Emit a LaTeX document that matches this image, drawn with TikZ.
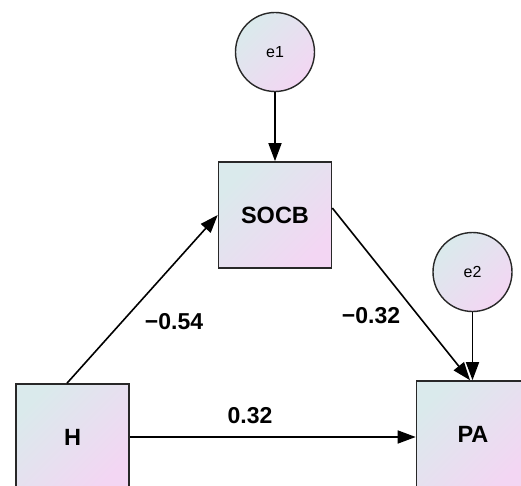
\documentclass[tikz,border=0pt]{standalone}
\usepackage{fontspec}
\setmainfont{Liberation Sans}
\usetikzlibrary{arrows.meta,calc}
\definecolor{gtop}{RGB}{218,234,236}
\definecolor{gbot}{RGB}{243,214,243}
\definecolor{edge}{RGB}{40,40,40}
\tikzset{
  obs/.style={draw=edge,line width=1.6pt,rectangle,minimum width=113pt,minimum height=106pt,inner sep=0pt,
    top color=gtop,bottom color=gbot,shading angle=45,font=\fontsize{23.5}{26}\selectfont\bfseries},
  err/.style={draw=edge,line width=1.4pt,circle,minimum size=79pt,inner sep=0pt,
    top color=gtop,bottom color=gbot,shading angle=45,font=\fontsize{16}{18}\selectfont},
  path/.style={line width=1.6pt,-{Triangle[length=18pt,width=13pt]}},
  coef/.style={font=\fontsize{23}{26}\selectfont\bfseries,inner sep=0pt}
}
\begin{document}
\begin{tikzpicture}[x=1pt,y=-1pt]
\useasboundingbox (0,0) rectangle (521,486);
\node[err] (e1) at (275,52) {e1};
\node[obs] (SOCB) at (275,215) {SOCB};
\node[obs] (H) at (72.5,437) {H};
\node[obs] (PA) at (473,434) {PA};
\node[err] (e2) at (472.5,272) {e2};
\draw[path] (e1.south) -- (SOCB.north);
\draw[path] ([xshift=-5.5pt]H.north) -- (SOCB.west);
\draw[path] ([yshift=7pt]SOCB.east) -- ([xshift=-3pt]PA.north);
\draw[path] (e2.south) -- (e2.south |- PA.north);
\draw[path] (H.east) -- (H.east -| PA.west);
\node[coef] (c1) at (174,322) {−0.54};
\node[coef] (c2) at (371,316) {−0.32};
\node[coef] (c3) at (250,416) {0.32};
\end{tikzpicture}
\end{document}
